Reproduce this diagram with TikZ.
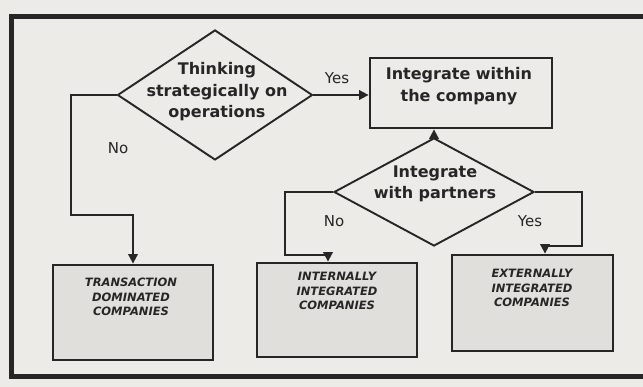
\documentclass[tikz,border=0pt]{standalone}
\usepackage{fontspec}
\setmainfont{DejaVu Sans}
\usetikzlibrary{shapes.geometric,arrows.meta}
\definecolor{paper}{RGB}{236,235,231}
\definecolor{ink}{RGB}{38,38,38}
\definecolor{shade}{RGB}{224,223,219}
\begin{document}
\begin{tikzpicture}[x=1pt,y=-1pt,
  decision/.style={diamond, draw=ink, line width=1.9pt, inner sep=0pt},
  mainbox/.style={rectangle, draw=ink, line width=2.8pt, inner sep=0pt},
  outcome/.style={rectangle, draw=ink, fill=shade, line width=2.8pt, inner sep=0pt},
  bigtext/.style={font=\bfseries\fontsize{16}{21.5}\selectfont, align=center, text=ink, inner sep=0pt},
  smalltext/.style={font=\bfseries\itshape\fontsize{11.5}{14.5}\selectfont, align=center, text=ink, inner sep=0pt},
  lbl/.style={font=\fontsize{15}{18}\selectfont, text=ink, inner sep=0pt},
  flow/.style={draw=ink, line width=1.9pt, line join=miter, -{Triangle[length=9.5pt,width=9.5pt]}}]
\useasboundingbox (0,0) rectangle (643,387);
\fill[paper] (0,0) rectangle (643,387);
% outer frame, open past the right edge
\draw[ink, line width=5pt] (650,17) -- (11,17) -- (11,377) -- (650,377);

% decisions and the central box
\node[decision, minimum width=195pt, minimum height=130pt] (think) at (215,95) {};
\node[bigtext] (thinktxt) at (217,92) {Thinking\\strategically on\\operations};
\node[mainbox, minimum width=182pt, minimum height=70pt] (within) at (461,93) {};
\node[bigtext] (withintxt) at (459,86) {Integrate within\\the company};
\node[decision, minimum width=200pt, minimum height=108pt] (partners) at (434,192) {};
\node[bigtext] (partnerstxt) at (435,184) {Integrate\\with partners};

% outcome boxes
\node[outcome, minimum width=160pt, minimum height=95pt] (transact) at (133,312.5) {};
\node[smalltext] (transacttxt) at (131,297) {TRANSACTION\\DOMINATED\\COMPANIES};
\node[outcome, minimum width=160pt, minimum height=94pt] (internal) at (337,310) {};
\node[smalltext] (internaltxt) at (337,291) {INTERNALLY\\INTEGRATED\\COMPANIES};
\node[outcome, minimum width=161pt, minimum height=96pt] (external) at (532.5,303) {};
\node[smalltext] (externaltxt) at (532,288) {EXTERNALLY\\INTEGRATED\\COMPANIES};

% branch labels
\node[lbl] (yes1) at (337,78) {Yes};
\node[lbl] (no1) at (118,148) {No};
\node[lbl] (no2) at (334,221) {No};
\node[lbl] (yes2) at (530,221) {Yes};

% bend points
\coordinate (nA) at (71,95);
\coordinate (nB) at (71,215);
\coordinate (nC) at (133,215);
\coordinate (mA) at (285,192);
\coordinate (mB) at (285,255);
\coordinate (mC) at (328,255);
\coordinate (rA) at (582,192);
\coordinate (rB) at (582,246);
\coordinate (rC) at (545,246);

% connectors
\draw[flow] (think.east) -- (think.east -| within.west);
\draw[flow] (partners.north) -- (partners.north |- within.south);
\draw[flow] (think.west) -- (nA) -- (nB) -- (nC) -- (transact.north);
\draw[flow] (partners.west) -- (mA) -- (mB) -- (mC) -- (mC |- internal.north);
\draw[flow] (partners.east) -- (rA) -- (rB) -- (rC) -- (rC |- external.north);
\end{tikzpicture}
\end{document}
